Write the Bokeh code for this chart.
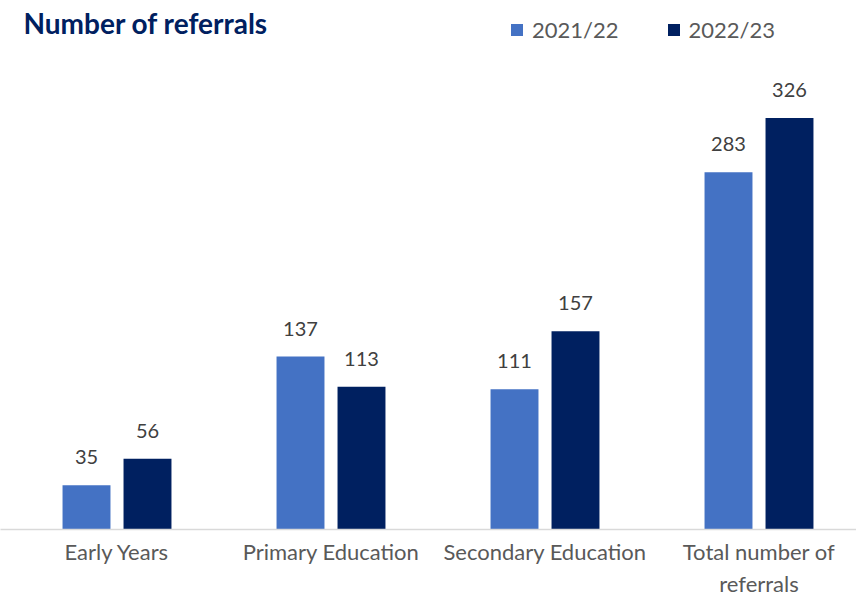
from bokeh.plotting import figure
from bokeh.models import Range1d, Legend, LegendItem, FixedTicker, ColumnDataSource, Label
from bokeh.embed import file_html
from bokeh.resources import INLINE
from bokeh.core.properties import value
import numpy as np

# ---- data ----
title_text = "Number of referrals"
categories = ["Early Years", "Primary Education", "Secondary Education", "Total number of\nreferrals"]
series_names = ["2021/22", "2022/23"]
values_2122 = [35, 137, 111, 283]
values_2223 = [56, 113, 157, 326]

FONT = "Lato"
C1 = "#4472C4"
C2 = "#002060"
LABEL_C = "#404040"
AXIS_C = "#595959"

xpos = np.arange(len(categories))
off = 0.1425
bw = 0.224

p = figure(width=856, height=599, output_backend="svg", toolbar_location=None,
           x_range=Range1d(-0.5444, 3.4556), y_range=Range1d(0, 419),
           y_axis_location=None, min_border_left=0, min_border_right=0,
           min_border_top=0, min_border_bottom=0, title=None)

s1 = ColumnDataSource(dict(x=xpos - off, top=values_2122, lab=[str(v) for v in values_2122]))
s2 = ColumnDataSource(dict(x=xpos + off, top=values_2223, lab=[str(v) for v in values_2223]))

r1 = p.vbar(x="x", top="top", width=bw, bottom=0, source=s1, fill_color=C1, line_color=None)
r2 = p.vbar(x="x", top="top", width=bw, bottom=0, source=s2, fill_color=C2, line_color=None)

for s in (s1, s2):
    p.text(x="x", y="top", text="lab", source=s, text_align="center", text_baseline="alphabetic",
           y_offset=-28, text_font=value(FONT), text_font_size="20px", text_color=LABEL_C)

# chart title drawn inside the frame, top-left
title = Label(x=23, y=507, x_units="screen", y_units="screen", text=title_text,
              text_font=FONT, text_font_size="28px", text_font_style="bold",
              text_color=C2, text_baseline="alphabetic", text_align="left")
p.add_layout(title)

legend = Legend(items=[LegendItem(label=series_names[0], renderers=[r1]),
                       LegendItem(label=series_names[1], renderers=[r2])],
                orientation="horizontal", location=(509, 486),
                glyph_width=15, glyph_height=15, label_standoff=8, spacing=47,
                padding=0, margin=0, border_line_color=None, background_fill_alpha=0,
                label_text_font=FONT, label_text_font_size="22px", label_text_color=AXIS_C)
p.add_layout(legend, "center")

p.xaxis.ticker = FixedTicker(ticks=list(xpos))
p.xaxis.major_label_overrides = {int(i): c for i, c in zip(xpos, categories)}
p.xaxis.axis_line_color = "#D9D9D9"
p.xaxis.axis_line_width = 1.5
p.xaxis.major_tick_line_color = None
p.xaxis.minor_tick_line_color = None
p.xaxis.major_label_standoff = 2
p.xaxis.major_label_text_font = FONT
p.xaxis.major_label_text_font_size = "22px"
p.xaxis.major_label_text_color = AXIS_C

p.xgrid.visible = False
p.ygrid.visible = False
p.outline_line_color = None

open("out.html", "w").write(file_html(p, INLINE))
